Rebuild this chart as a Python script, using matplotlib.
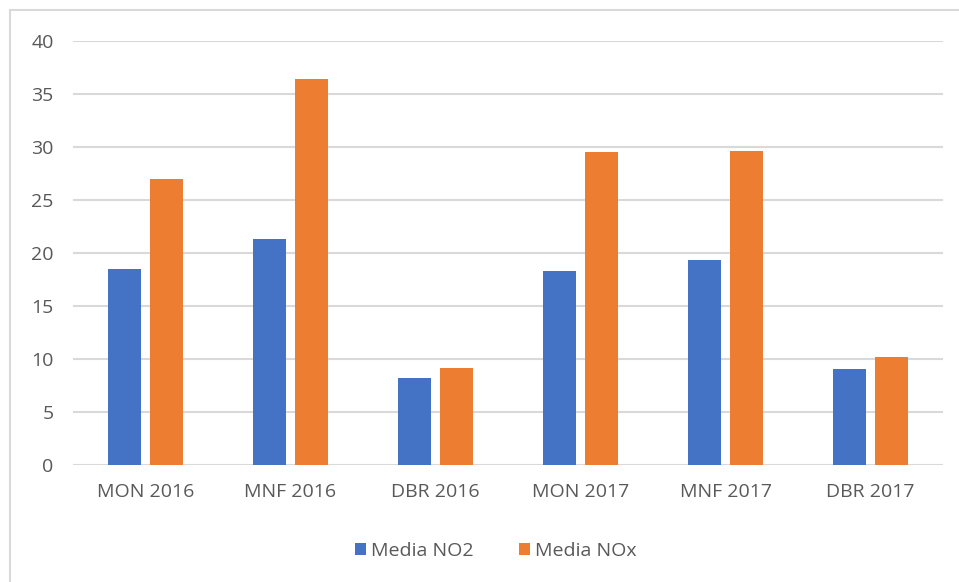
import matplotlib.pyplot as plt
import numpy as np

# Station / year categories
categories = ['MON 2016', 'MNF 2016', 'DBR 2016', 'MON 2017', 'MNF 2017', 'DBR 2017']

# Mean concentrations
media_no2 = [18.5, 21.3, 8.2, 18.3, 19.3, 9.05]
media_nox = [27.0, 36.4, 9.15, 29.5, 29.6, 10.15]

blue = '#4472C4'
orange = '#ED7D31'
text_gray = '#595959'
grid_gray = '#D9D9D9'

plt.rcParams['font.family'] = ['Open Sans', 'DejaVu Sans']

fig = plt.figure(figsize=(9.59, 5.82), dpi=100)
ax = fig.add_axes([73 / 959, 1 - 465 / 582, 870 / 959, 424 / 582])

x = np.arange(len(categories))
width = 0.228
offset = 0.145

ax.bar(x - offset, media_no2, width, color=blue, label='Media NO2', zorder=3)
ax.bar(x + offset, media_nox, width, color=orange, label='Media NOx', zorder=3)

ax.set_xlim(-0.5, len(categories) - 0.5)
ax.set_ylim(0, 40)
ax.set_yticks(range(0, 41, 5))
ax.set_xticks(x)
ax.set_xticklabels(categories)

# Gridlines like the spreadsheet chart
ax.yaxis.grid(True, color=grid_gray, linewidth=1.5, zorder=0)
ax.set_axisbelow(True)
for s in ax.spines.values():
    s.set_visible(False)
ax.tick_params(axis='both', length=0, colors=text_gray, labelsize=14)
ax.tick_params(axis='y', pad=14)
ax.tick_params(axis='x', pad=13)

# Legend at bottom centre
ax.legend(loc='center', bbox_to_anchor=(0.486, -0.203), ncol=2, frameon=False,
          fontsize=14, labelcolor=text_gray, handlelength=0.6, handleheight=0.6,
          handletextpad=0.25, columnspacing=2.3)

# Outer chart border
fig.patches.append(plt.Rectangle((10 / 959, -0.1), 1.2, 1 - 10 / 582 + 0.1,
                                 transform=fig.transFigure, fill=False,
                                 edgecolor=grid_gray, linewidth=1.5))

fig.savefig('out.png', dpi=100)
